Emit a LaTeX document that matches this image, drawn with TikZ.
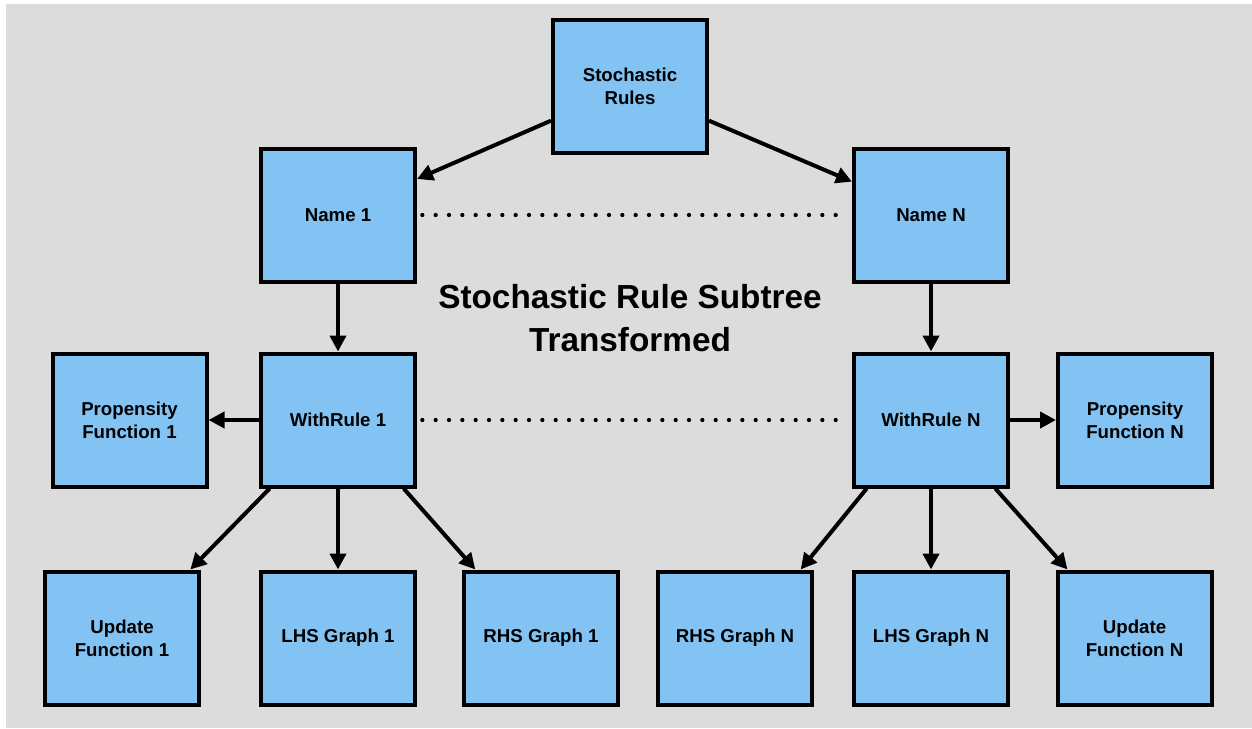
\documentclass[tikz,border=0pt]{standalone}
\usepackage{fontspec}
\setmainfont{Liberation Sans}
\usetikzlibrary{arrows.meta}
\definecolor{bgc}{HTML}{DCDCDC}
\definecolor{boxc}{HTML}{83C3F3}
\tikzset{
  box/.style={draw=black, line width=3pt, fill=boxc, minimum width=115.5pt, minimum height=99.75pt,
    inner sep=0pt, align=center, font=\bfseries\fontsize{14}{17}\selectfont},
  arr/.style={line width=3pt, -{Triangle[length=12pt,width=12pt]}},
  dotline/.style={line width=3.2pt, line cap=round, dash pattern=on 0pt off 10pt, shorten >=4pt, shorten <=4pt},
  titlef/.style={font=\bfseries\fontsize{25}{32}\selectfont, align=center}
}
\begin{document}
\begin{tikzpicture}[x=0.75pt,y=-0.75pt]
\useasboundingbox (0,0) rectangle (1252,728);
\fill[white] (0,0) rectangle (1252,728);
\fill[bgc] (6,4) rectangle (1252,728);

\node[box] (sr) at (630,86) {Stochastic\\Rules};
\node[box] (n1) at (338,215) {Name 1};
\node[box] (nN) at (931,215) {Name N};
\node[box] (wr1) at (338,420) {WithRule 1};
\node[box] (wrN) at (931,420) {WithRule N};
\node[box] (pr1) at (129.5,420) {Propensity\\Function 1};
\node[box] (prN) at (1135,420) {Propensity\\Function N};
\node[box] (up1) at (122,638) {Update\\Function 1};
\node[box] (lhs1) at (338,638) {LHS Graph 1};
\node[box] (rhs1) at (541,638) {RHS Graph 1};
\node[box] (rhsN) at (735,638) {RHS Graph N};
\node[box] (lhsN) at (931,638) {LHS Graph N};
\node[box] (upN) at (1134.5,638) {Update\\Function N};

\node[titlef] (title) at (630,318) {Stochastic Rule Subtree\\Transformed};

\draw[arr] ([yshift=-26pt]sr.west) -- ([yshift=27pt]n1.east);
\draw[arr] ([yshift=-26pt]sr.east) -- ([yshift=25pt]nN.west);
\draw[arr] (n1.south) -- (wr1.north);
\draw[arr] (nN.south) -- (wrN.north);
\draw[arr] (wr1.west) -- (pr1.east);
\draw[arr] (wrN.east) -- (prN.west);
\draw[arr] ([xshift=8pt]wr1.south west) -- ([xshift=-8pt]up1.north east);
\draw[arr] (wr1.south) -- (lhs1.north);
\draw[arr] ([xshift=-10pt]wr1.south east) -- ([xshift=10pt]rhs1.north west);
\draw[arr] ([xshift=11pt]wrN.south west) -- ([xshift=-10pt]rhsN.north east);
\draw[arr] (wrN.south) -- (lhsN.north);
\draw[arr] ([xshift=-11pt]wrN.south east) -- ([xshift=9pt]upN.north west);

\draw[dotline] (n1.east) -- (nN.west);
\draw[dotline] (wr1.east) -- (wrN.west);
\end{tikzpicture}
\end{document}
